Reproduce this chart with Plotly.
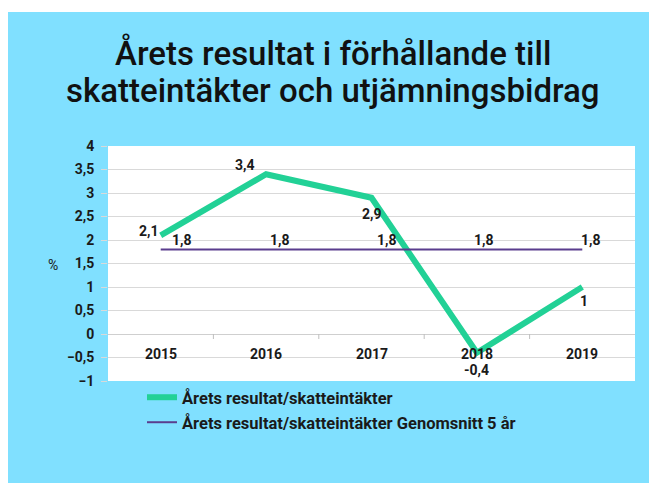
import plotly.graph_objects as go

years = ["2015", "2016", "2017", "2018", "2019"]
result = [2.1, 3.4, 2.9, -0.4, 1.0]
avg5 = [1.8, 1.8, 1.8, 1.8, 1.8]
title_lines = ["Årets resultat i förhållande till", "skatteintäkter och utjämningsbidrag"]
name_result = "Årets resultat/skatteintäkter"
name_avg = "Årets resultat/skatteintäkter Genomsnitt 5 år"
y_ticks = [-1, -0.5, 0, 0.5, 1, 1.5, 2, 2.5, 3, 3.5, 4]

# label offsets (pixels, style only)
result_label_shift = [(-12, 4), (-21, 9), (0, -16), (0, -17), (2, -14)]
avg_label_shift = [(21, 9), (14, 9), (15, 9), (7, 9), (9, 9)]

W, H = 657, 483
OFF = 8  # page body margin
L, T = 108 - OFF, 146 - OFF
R, B = W - (635 - OFF), H - (381 - OFF)
PW, PH = W - L - R, H - T - B

FONT = "Roboto, sans-serif"
BLUE = "#80e0ff"
GREEN = "#22d196"
PURPLE = "#5a3d8e"
DARK = "#1a1a1a"


def fmt(v):
    return ("%g" % v).replace(".", ",")


def py(ref_px):
    """screen row of the reference -> paper y"""
    return (T + PH - (ref_px - OFF)) / PH


def px(ref_px):
    return (ref_px - OFF - L) / PW


fig = go.Figure()
fig.add_trace(go.Scatter(
    x=years, y=result, mode="lines", name=name_result,
    line=dict(color=GREEN, width=6), legend="legend",
))
fig.add_trace(go.Scatter(
    x=years, y=avg5, mode="lines", name=name_avg,
    line=dict(color=PURPLE, width=2), legend="legend2",
))

lab_font = dict(family=FONT, size=14, color=DARK, weight="bold")
annotations = []
for i, v in enumerate(result):
    dx, dy = result_label_shift[i]
    annotations.append(dict(x=i, y=v, xref="x", yref="y", text=fmt(v), showarrow=False,
                            xanchor="center", yanchor="middle", xshift=dx, yshift=dy, font=lab_font))
for i, v in enumerate(avg5):
    dx, dy = avg_label_shift[i]
    annotations.append(dict(x=i, y=v, xref="x", yref="y", text=fmt(v), showarrow=False,
                            xanchor="center", yanchor="middle", xshift=dx, yshift=dy, font=lab_font))
for i, y in enumerate(years):
    annotations.append(dict(x=i, y=0, xref="x", yref="y", text=y, showarrow=False,
                            xanchor="center", yanchor="middle", yshift=-20, font=lab_font))
for line, top in zip(title_lines, [31, 68.5]):
    annotations.append(dict(x=px(332.5), y=py(top), xref="paper", yref="paper",
                            text=line, showarrow=False, xanchor="center", yanchor="top",
                            font=dict(family=FONT, size=33, color="#111111", weight=500)))
annotations.append(dict(x=px(53), y=py(265), xref="paper", yref="paper", text="%",
                        showarrow=False, xanchor="center", yanchor="middle",
                        font=dict(family=FONT, size=14, color=DARK)))

shapes = []
for i in range(len(years) - 1):
    shapes.append(dict(type="line", xref="x", yref="y", x0=i + 0.5, x1=i + 0.5,
                       ysizemode="pixel", yanchor=0, y0=0, y1=-5,
                       line=dict(color="#bfbfbf", width=1)))
# white outer strip at top
shapes.append(dict(type="rect", xref="paper", yref="paper", x0=px(-20), x1=px(W + 40),
                   y0=py(12), y1=py(-20), fillcolor="white", line_width=0, layer="below"))

leg_common = dict(xanchor="left", yanchor="top", bgcolor="rgba(0,0,0,0)",
                  font=dict(family=FONT, size=16.5, color=DARK, weight="bold"), itemwidth=30)

fig.update_layout(
    width=W, height=H,
    margin=dict(l=L, r=R, t=T, b=B, autoexpand=False),
    paper_bgcolor=BLUE, plot_bgcolor="white",
    separators=",.",
    font=dict(family=FONT, size=14, color=DARK),
    showlegend=True,
    legend=dict(x=px(142), y=py(380), **leg_common),
    legend2=dict(x=px(142), y=py(405), **leg_common),
    xaxis=dict(type="category", range=[-0.5, len(years) - 0.5], showticklabels=False,
               showgrid=False, zeroline=False, showline=False, fixedrange=True),
    yaxis=dict(range=[-1, 4], tickvals=y_ticks, showgrid=True, gridcolor="#d9d9d9", gridwidth=1,
               zeroline=True, zerolinecolor="#cfcfcf", zerolinewidth=1,
               ticks="outside", ticklen=6, tickcolor="#d9d9d9", ticklabelstandoff=4,
               tickfont=dict(family=FONT, size=14, color=DARK, weight="bold"),
               showline=False),
    annotations=annotations, shapes=shapes,
)
fig.write_html("out.html")
